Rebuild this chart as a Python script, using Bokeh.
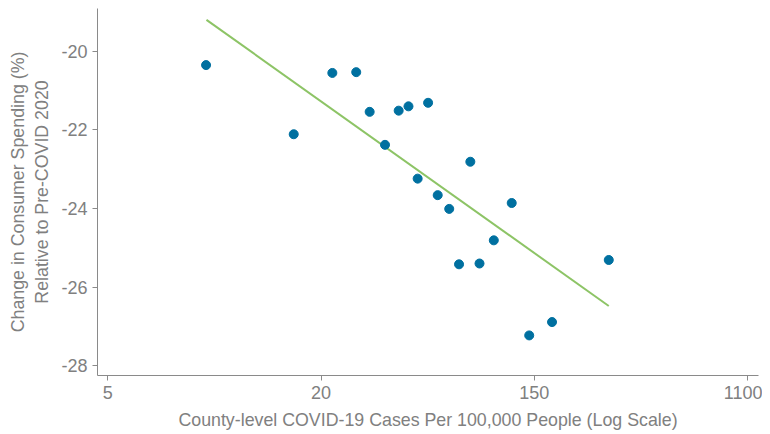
from bokeh.plotting import figure
from bokeh.models import Range1d, FixedTicker
from bokeh.embed import file_html
from bokeh.resources import INLINE

# x is in tick units of the log axis (tick i sits at position i)
tick_pos = [0, 1, 2, 3]
tick_labels = ["5", "20", "150", "1100"]
y_ticks = [-28, -26, -24, -22, -20]

cases_pos = [0.461, 0.872, 1.053, 1.165, 1.228, 1.300, 1.364, 1.410, 1.453, 1.502,
             1.547, 1.601, 1.647, 1.700, 1.743, 1.810, 1.894, 1.976, 2.083, 2.349]
spending = [-20.35, -22.11, -20.55, -20.53, -21.54, -22.38, -21.51, -21.40, -23.24, -21.31,
            -23.66, -24.01, -25.42, -22.81, -25.40, -24.81, -23.86, -27.23, -26.89, -25.31]

# fitted trend line end points
fit_x = [0.463, 2.349]
fit_y = [-19.20, -26.48]

text_color = "#808080"
axis_color = "#8a8a8a"
font = "Liberation Sans"

p = figure(
    width=762, height=433,
    x_range=Range1d(-0.048, 3.051),
    y_range=Range1d(-28.25, -18.91),
    output_backend="svg",
    toolbar_location=None,
    min_border_left=97, min_border_right=4,
    min_border_top=8, min_border_bottom=58,
)

p.line(fit_x, fit_y, line_width=2, color="#8dc466")
p.scatter(cases_pos, spending, size=9, color="#0070a0")

p.outline_line_color = None
p.xgrid.grid_line_color = None
p.ygrid.grid_line_color = None

for ax in (p.xaxis, p.yaxis):
    ax.axis_line_color = axis_color
    ax.major_tick_line_color = axis_color
    ax.minor_tick_line_color = None
    ax.major_tick_out = 5
    ax.major_tick_in = 0
    ax.major_label_standoff = 5
    ax.major_label_text_color = text_color
    ax.major_label_text_font = font
    ax.major_label_text_font_size = "18px"
    ax.axis_label_text_color = text_color
    ax.axis_label_text_font = font
    ax.axis_label_text_font_size = "17.8px"
    ax.axis_label_text_font_style = "normal"

p.xaxis.ticker = FixedTicker(ticks=tick_pos)
p.xaxis.major_label_overrides = {t: l for t, l in zip(tick_pos, tick_labels)}
p.xaxis.axis_label = "County-level COVID-19 Cases Per 100,000 People (Log Scale)"
p.xaxis.axis_label_standoff = 8

p.yaxis.ticker = FixedTicker(ticks=y_ticks)
p.yaxis.major_label_overrides = {t: str(t) for t in y_ticks}
p.yaxis.axis_label = "Change in Consumer Spending (%)\nRelative to Pre-COVID 2020"
p.yaxis.axis_label_standoff = 6

open("out.html", "w").write(file_html(p, INLINE))
